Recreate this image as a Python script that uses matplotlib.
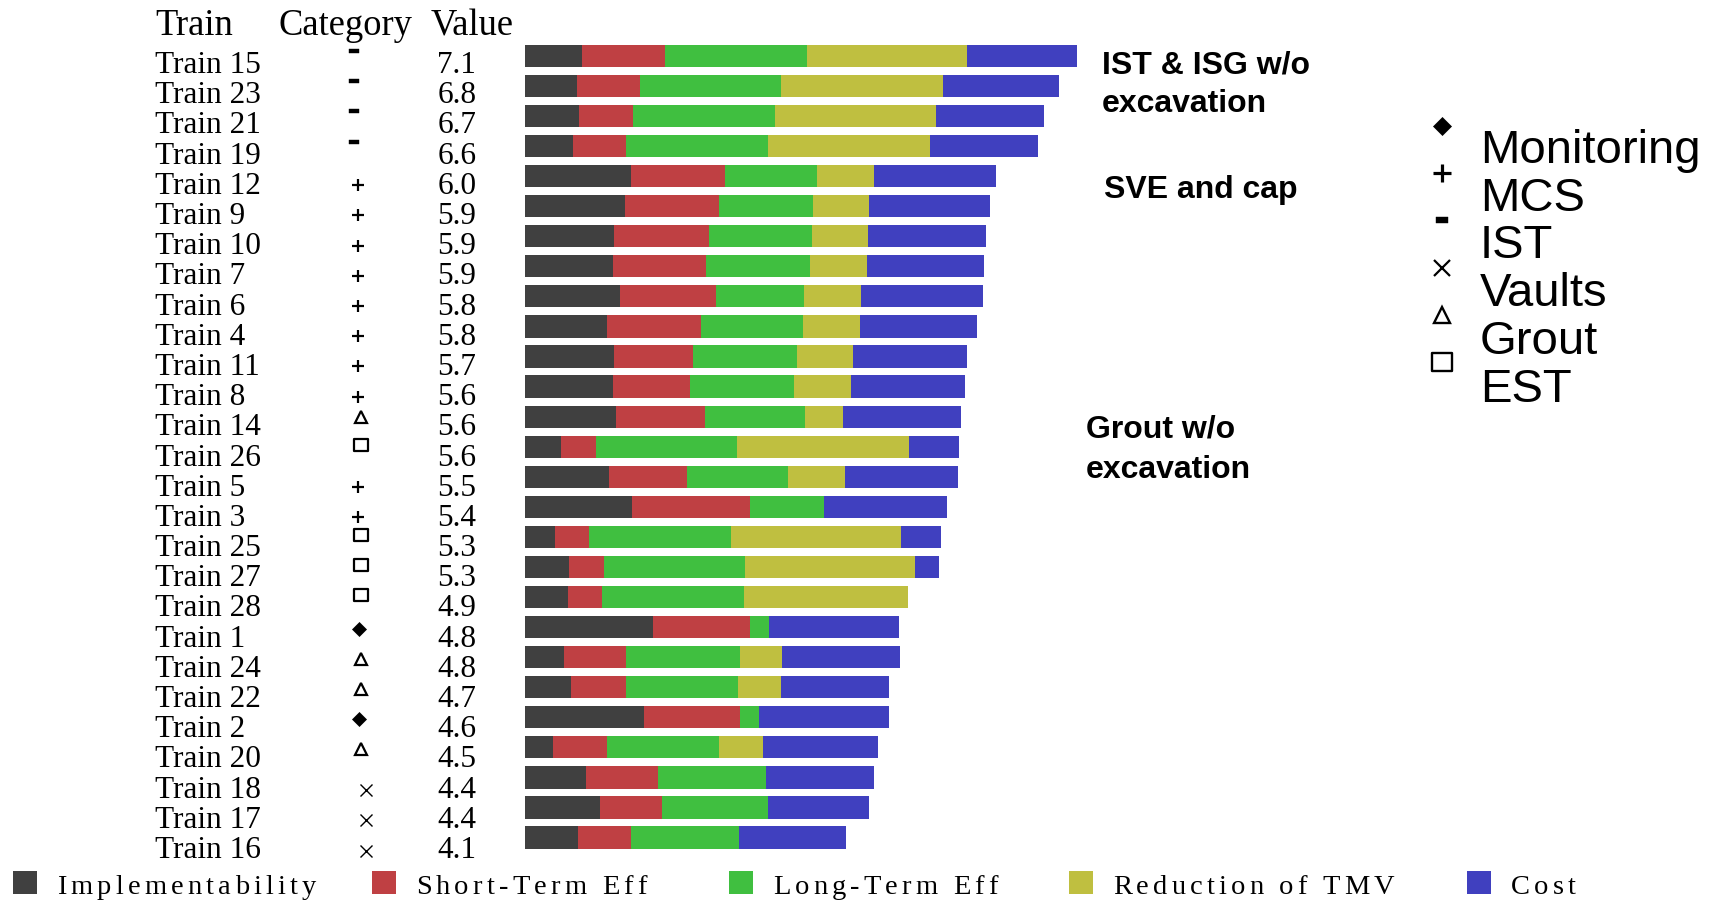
import numpy as np
import matplotlib
matplotlib.use('Agg')
import matplotlib.pyplot as plt
from matplotlib import transforms
from matplotlib.path import Path
from matplotlib.font_manager import findfont, FontProperties
from matplotlib.ft2font import FT2Font

# ---------------- data ----------------
trains = ['Train 15', 'Train 23', 'Train 21', 'Train 19', 'Train 12', 'Train 9',
          'Train 10', 'Train 7', 'Train 6', 'Train 4', 'Train 11', 'Train 8',
          'Train 14', 'Train 26', 'Train 5', 'Train 3', 'Train 25', 'Train 27',
          'Train 28', 'Train 1', 'Train 24', 'Train 22', 'Train 2', 'Train 20',
          'Train 18', 'Train 17', 'Train 16']
categories = ['IST', 'IST', 'IST', 'IST', 'MCS', 'MCS', 'MCS', 'MCS', 'MCS', 'MCS',
              'MCS', 'MCS', 'Grout', 'EST', 'MCS', 'MCS', 'EST', 'EST', 'EST',
              'Monitoring', 'Grout', 'Grout', 'Monitoring', 'Grout',
              'Vaults', 'Vaults', 'Vaults']
values = [7.1, 6.8, 6.7, 6.6, 6.0, 5.9, 5.9, 5.9, 5.8, 5.8, 5.7, 5.6, 5.6, 5.6,
          5.5, 5.4, 5.3, 5.3, 4.9, 4.8, 4.8, 4.7, 4.6, 4.5, 4.4, 4.4, 4.1]

implementability = [0.74, 0.67, 0.70, 0.62, 1.36, 1.28, 1.14, 1.13, 1.22, 1.06, 1.14,
                    1.13, 1.17, 0.47, 1.08, 1.37, 0.39, 0.57, 0.55, 1.64, 0.50, 0.60,
                    1.52, 0.37, 0.79, 0.96, 0.68]
short_term = [1.06, 0.80, 0.69, 0.68, 1.20, 1.21, 1.21, 1.19, 1.22, 1.20, 1.01, 0.99,
              1.13, 0.44, 0.99, 1.51, 0.44, 0.44, 0.44, 1.24, 0.80, 0.69, 1.23, 0.69,
              0.92, 0.79, 0.68]
long_term = [1.81, 1.80, 1.81, 1.81, 1.18, 1.19, 1.32, 1.32, 1.13, 1.30, 1.33, 1.32,
             1.28, 1.81, 1.30, 0.94, 1.81, 1.80, 1.81, 0.24, 1.45, 1.44, 0.24, 1.43,
             1.37, 1.36, 1.38]
reduction_tmv = [2.04, 2.07, 2.06, 2.07, 0.72, 0.72, 0.72, 0.73, 0.73, 0.72, 0.72, 0.73,
                 0.49, 2.19, 0.72, 0.0, 2.17, 2.18, 2.10, 0.0, 0.54, 0.54, 0.0, 0.55,
                 0.0, 0.0, 0.0]
cost = [1.41, 1.48, 1.37, 1.38, 1.56, 1.54, 1.51, 1.50, 1.55, 1.50, 1.45, 1.45, 1.51,
        0.64, 1.45, 1.57, 0.51, 0.31, 0.0, 1.66, 1.50, 1.39, 1.67, 1.47, 1.38, 1.29,
        1.37]

criteria = ['Implementability', 'Short-Term Eff', 'Long-Term Eff',
            'Reduction of TMV', 'Cost']
criteria_colors = ['#404040', '#BF4043', '#40BF40', '#BFBF40', '#4040BF']
category_order = ['Monitoring', 'MCS', 'IST', 'Vaults', 'Grout', 'EST']
annotations = [('IST & ISG w/o', 'excavation'), ('SVE and cap',),
               ('Grout w/o', 'excavation')]

# ---------------- figure ----------------
W, H = 1714, 900
fig = plt.figure(figsize=(W / 100, H / 100), dpi=100)
fig.patch.set_facecolor('white')

# overlay axes in pixel coordinates (origin top-left) for layout
ov = fig.add_axes([0, 0, 1, 1])
ov.set_xlim(0, W)
ov.set_ylim(H, 0)
ov.axis('off')

# bar axes
x0_px, px_per_unit = 524.5, 78.3
top_px, bot_px = 40.8, 852.6
ax = fig.add_axes([x0_px / W, 1 - bot_px / H, 8 * px_per_unit / W,
                   (bot_px - top_px) / H])
n = len(trains)
ax.set_xlim(0, 8)
ax.set_ylim(n - 0.5, -0.5)
ax.axis('off')

ypos = np.arange(n)
segments = [implementability, short_term, long_term, reduction_tmv, cost]
left = np.zeros(n)
for seg, col, lab in zip(segments, criteria_colors, criteria):
    seg = np.asarray(seg)
    ax.barh(ypos, seg, left=left, height=0.74, color=col, edgecolor='none',
            label=lab)
    left += seg

# row texts
serif = 'Liberation Serif'
sans = 'Liberation Sans'
row_tr = transforms.blended_transform_factory(ov.transData, ax.transData)
step_px = (bot_px - top_px) / n
base_rows = ypos * (30.19 / step_px) + (73 - 55.8) / step_px

for txt, x in [('Train', 155), ('Category', 279), ('Value', 431)]:
    ov.text(x, 35, txt, family=serif, fontsize=26.3, ha='left', va='baseline')

for i in range(n):
    ov.text(155, base_rows[i], trains[i], family=serif, fontsize=22.5,
            ha='left', va='baseline', transform=row_tr)
    ov.text(437.5, base_rows[i], f'{values[i]:.1f}', family=serif, fontsize=22.5,
            ha='left', va='baseline', transform=row_tr)

# markers
dash_small = Path([(-1, -0.42), (1, -0.42), (1, 0.42), (-1, 0.42), (-1, -0.42)],
                  [1, 2, 2, 2, 79])
dash_big = Path([(-1, -0.6), (1, -0.6), (1, 0.6), (-1, 0.6), (-1, -0.6)],
                [1, 2, 2, 2, 79])
rect = Path([(-1.15, -1), (1.15, -1), (1.15, 1), (-1.15, 1), (-1.15, -1)],
            [1, 2, 2, 2, 79])

cat_small = {
    'Monitoring': dict(marker='D', ms=7.3, mfc='k', mec='k', mew=0.5),
    'MCS': dict(marker='+', ms=9.2, mec='k', mew=1.6),
    'IST': dict(marker=dash_small, ms=7.6, mfc='k', mec='k', mew=0.3),
    'Vaults': dict(marker='x', ms=8.0, mec='k', mew=1.0),
    'Grout': dict(marker='^', ms=9.0, mfc='none', mec='k', mew=1.6),
    'EST': dict(marker=rect, ms=10.0, mfc='none', mec='k', mew=1.6),
}
cat_big = {
    'Monitoring': dict(marker='D', ms=9.6, mfc='k', mec='k', mew=0.5),
    'MCS': dict(marker='+', ms=12.4, mec='k', mew=2.3),
    'IST': dict(marker=dash_big, ms=8.2, mfc='k', mec='k', mew=0.3),
    'Vaults': dict(marker='x', ms=12.0, mec='k', mew=1.6),
    'Grout': dict(marker='^', ms=11.0, mfc='none', mec='k', mew=1.7),
    'EST': dict(marker=rect, ms=14.6, mfc='none', mec='k', mew=1.7),
}
cat_dx = {'IST': 354.5, 'MCS': 358, 'Grout': 361, 'EST': 361,
          'Monitoring': 359, 'Vaults': 366}
cat_dy = {'IST': -22, 'MCS': -8.5, 'Grout': -18, 'EST': -21,
          'Monitoring': -18, 'Vaults': -7.3}

for i, c in enumerate(categories):
    ov.plot([cat_dx[c]], [base_rows[i] + cat_dy[c] / step_px], linestyle='none',
            transform=row_tr, clip_on=False, **cat_small[c])

# category legend (right)
for k, c in enumerate(category_order):
    my = 126 + 47.2 * k
    ov.plot([1442], [my], linestyle='none', clip_on=False, **cat_big[c])
    ov.text(1480, 163 + 47.7 * k, c, family=sans, fontsize=34,
            ha='left', va='baseline')

# annotations
ann_pos = [(1102, [73, 112]), (1104, [198]), (1086, [438, 477.5])]
for lines, (ax_x, ys) in zip(annotations, ann_pos):
    for line, yy in zip(lines, ys):
        ov.text(ax_x, yy, line, family=sans, fontweight='bold', fontsize=23,
                ha='left', va='baseline')

# bottom legend with letter-spaced serif labels
LEG_SIZE = 20.5
fp_leg = FontProperties(family=serif, size=LEG_SIZE)
ft = FT2Font(findfont(fp_leg), hinting_factor=1)
ft.set_size(LEG_SIZE, 100)


def spaced(x, y, s, spacing):
    cx = x
    for ch in s:
        if ch != ' ':
            ov.text(cx, y, ch, fontproperties=fp_leg, ha='left', va='baseline')
        g = ft.load_char(ord(ch))
        cx += g.linearHoriAdvance / 65536 + spacing


sq_x = [13, 372, 729, 1069, 1467]
for lab, col, sx in zip(criteria, criteria_colors, sq_x):
    ov.add_patch(plt.Rectangle((sx, 871), 24, 23, facecolor=col, edgecolor='none',
                               clip_on=False))
    spaced(sx + 44, 894, lab, 4.4)

fig.savefig('out.png', dpi=100, facecolor='white')
